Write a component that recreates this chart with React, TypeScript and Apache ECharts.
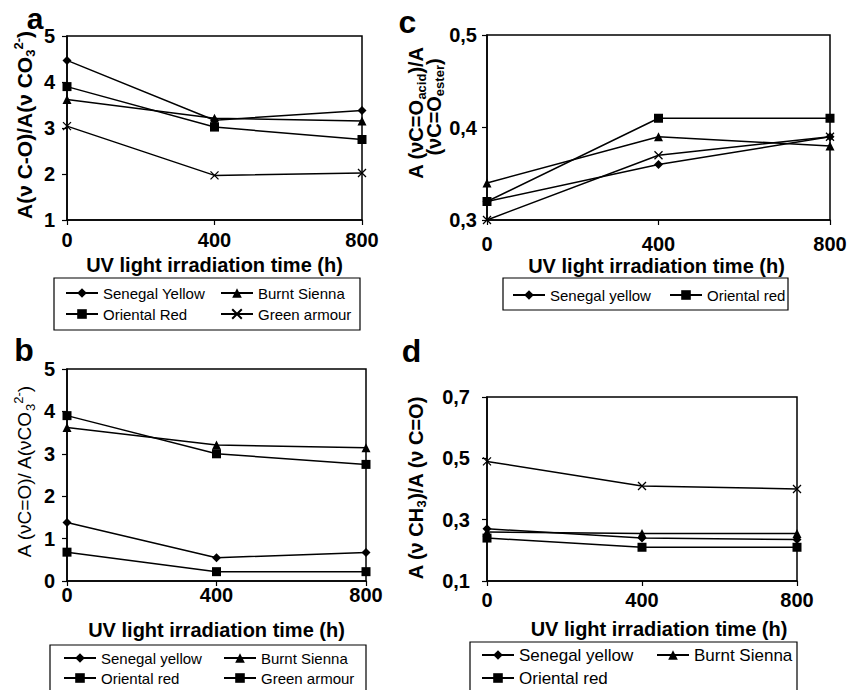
import React, { useEffect, useRef } from 'react';
import * as echarts from 'echarts';

// ---------------- data ----------------
const TIME_H = [0, 400, 800];

// panel a : A(ν C-O)/A(ν CO3 2-)
const A_SENEGAL = [4.47, 3.17, 3.38];
const A_BURNT = [3.62, 3.21, 3.15];
const A_ORIENTAL = [3.9, 3.02, 2.75];
const A_GREEN = [3.04, 1.97, 2.02];

// panel b : A(νC=O)/A(νCO3 2-)
const B_SENEGAL = [1.38, 0.55, 0.67];
const B_BURNT = [3.62, 3.21, 3.14];
const B_ORIENTAL = [3.9, 3.0, 2.75];
const B_GREEN = [0.68, 0.22, 0.22];

// panel c : A(νC=O acid)/A(νC=O ester)
const C_SENEGAL = [0.32, 0.36, 0.39];
const C_ORIENTAL = [0.32, 0.41, 0.41];
const C_BURNT = [0.34, 0.39, 0.38];
const C_GREEN = [0.3, 0.37, 0.39];

// panel d : A(ν CH3)/A(ν C=O)
const D_SENEGAL = [0.27, 0.24, 0.235];
const D_BURNT = [0.26, 0.255, 0.255];
const D_ORIENTAL = [0.24, 0.21, 0.21];
const D_GREEN = [0.49, 0.41, 0.4];

const X_TITLE = 'UV light irradiation time (h)';

// ---------------- styling helpers ----------------
const FONT = '"Liberation Sans", Arial, sans-serif';
const X_SYMBOL = 'path://M0,0L10,10M10,0L0,10';

function lineSeries(name: string, values: number[], symbol: string, size: number) {
  const isX = symbol === X_SYMBOL;
  return {
    type: 'line',
    name,
    data: TIME_H.map((t, i) => [t, values[i]]),
    symbol,
    symbolSize: size,
    showSymbol: true,
    silent: true,
    lineStyle: { color: '#000', width: 1.5 },
    itemStyle: { color: '#000', borderColor: '#000', borderWidth: isX ? 1.3 : 0 },
    emphasis: { disabled: true },
  };
}

function richStyles(size: number, bold: boolean) {
  const w = bold ? 'bold' : 'normal';
  return {
    n: { fontFamily: FONT, fontSize: size, fontWeight: w, fill: '#000', lineHeight: size + 4 },
    sub: { fontFamily: FONT, fontSize: 13, fontWeight: w, fill: '#000', padding: [12, 0, 0, 0], lineHeight: size + 4 },
    sup: { fontFamily: FONT, fontSize: 13, fontWeight: w, fill: '#000', padding: [0, 0, 12, 0], lineHeight: size + 4 },
  };
}

function yTitle(x: number, y: number, text: string, size: number, bold: boolean) {
  return {
    type: 'text',
    x,
    y,
    rotation: Math.PI / 2,
    silent: true,
    style: { text, rich: richStyles(size, bold), align: 'center', verticalAlign: 'middle' },
  };
}

function plainText(x: number, y: number, text: string, size: number) {
  return {
    type: 'text',
    x,
    y,
    silent: true,
    style: {
      text,
      fontFamily: FONT,
      fontSize: size,
      fontWeight: 'bold',
      fill: '#000',
      align: 'center',
      verticalAlign: 'middle',
    },
  };
}

function box(x: number, y: number, w: number, h: number) {
  return {
    type: 'rect',
    silent: true,
    shape: { x, y, width: w, height: h },
    style: { fill: 'none', stroke: '#000', lineWidth: 1.2 },
  };
}

function legendCol(left: number, top: number, names: string[], fontSize: number, gap: number, orient = 'vertical') {
  return {
    orient,
    left,
    top,
    padding: 0,
    itemGap: gap,
    itemWidth: 32,
    itemHeight: 12,
    selectedMode: false,
    data: names,
    textStyle: { fontFamily: FONT, fontSize, color: '#000' },
  };
}

type Grid = { left: number; top: number; width: number; height: number };

function baseOption(
  grid: Grid,
  yMin: number,
  yMax: number,
  yInterval: number,
  comma: boolean,
  xMargin: number,
  yMargin: number
) {
  const fmt = (v: number) => (comma ? v.toFixed(1).replace('.', ',') : String(Math.round(v)));
  return {
    animation: false,
    backgroundColor: 'transparent',
    grid: {
      ...grid,
      show: true,
      borderColor: '#000',
      borderWidth: 1.5,
      backgroundColor: 'transparent',
      containLabel: false,
      outerBoundsMode: 'none',
    },
    xAxis: {
      type: 'value',
      min: 0,
      max: 800,
      interval: 400,
      axisLine: { show: true, onZero: false, lineStyle: { color: '#000', width: 1.5 } },
      axisTick: { show: true, inside: false, length: 5, lineStyle: { color: '#000', width: 1.2 } },
      axisLabel: {
        margin: xMargin,
        fontFamily: FONT,
        fontSize: 20,
        fontWeight: 'bold',
        color: '#000',
        showMinLabel: true,
        showMaxLabel: true,
      },
      splitLine: { show: false },
    },
    yAxis: {
      type: 'value',
      min: yMin,
      max: yMax,
      interval: yInterval,
      axisLine: { show: true, onZero: false, lineStyle: { color: '#000', width: 1.5 } },
      axisTick: { show: true, inside: false, length: 5, lineStyle: { color: '#000', width: 1.2 } },
      axisLabel: {
        margin: yMargin,
        fontFamily: FONT,
        fontSize: 20,
        fontWeight: 'bold',
        color: '#000',
        formatter: fmt,
        showMinLabel: true,
        showMaxLabel: true,
      },
      splitLine: { show: false },
    },
  };
}

// ---------------- panels ----------------
const OPTION_A = {
  ...baseOption({ left: 67, top: 36, width: 295, height: 184 }, 1, 5, 1, false, 10, 12),
  series: [
    lineSeries('Senegal Yellow', A_SENEGAL, 'diamond', 9),
    lineSeries('Burnt Sienna', A_BURNT, 'triangle', 9),
    lineSeries('Oriental Red', A_ORIENTAL, 'rect', 9),
    lineSeries('Green armour', A_GREEN, X_SYMBOL, 8),
  ],
  legend: [
    legendCol(65, 285.5, ['Senegal Yellow', 'Oriental Red'], 15, 6),
    legendCol(220, 285.5, ['Burnt Sienna', 'Green armour'], 15, 6),
  ],
  graphic: [
    box(54, 278, 306, 52),
    plainText(35, 18, 'a', 30),
    plainText(214.5, 264.5, X_TITLE, 20),
    yTitle(24, 125, '{n|A(ν C-O)/A(ν CO}{sub|3}{sup|2-}{n|)}', 21, true),
  ],
};

const OPTION_C = {
  ...baseOption({ left: 487, top: 35, width: 343, height: 185 }, 0.3, 0.5, 0.1, true, 14, 10),
  series: [
    lineSeries('Burnt Sienna', C_BURNT, 'triangle', 9),
    lineSeries('Green armour', C_GREEN, X_SYMBOL, 8),
    lineSeries('Senegal yellow', C_SENEGAL, 'diamond', 9),
    lineSeries('Oriental red', C_ORIENTAL, 'rect', 9),
  ],
  legend: [
    legendCol(512, 287.5, ['Senegal yellow'], 15, 6, 'horizontal'),
    legendCol(669, 287.5, ['Oriental red'], 15, 6, 'horizontal'),
  ],
  graphic: [
    box(503, 278, 285, 32),
    plainText(407.5, 22, 'c', 32),
    plainText(656.5, 266, X_TITLE, 20),
    yTitle(415.5, 113, '{n|A (νC=O}{sub|acid}{n|)/A}', 20, true),
    yTitle(433.5, 107, '{n|(νC=O}{sub|ester}{n|)}', 20, true),
  ],
};

const OPTION_B = {
  ...baseOption({ left: 67, top: 369, width: 299, height: 212 }, 0, 5, 1, false, 4, 12),
  series: [
    lineSeries('Senegal yellow', B_SENEGAL, 'diamond', 9),
    lineSeries('Burnt Sienna', B_BURNT, 'triangle', 9),
    lineSeries('Oriental red', B_ORIENTAL, 'rect', 9),
    lineSeries('Green armour', B_GREEN, 'rect', 9),
  ],
  legend: [
    legendCol(63, 650.5, ['Senegal yellow', 'Oriental red'], 15, 5),
    legendCol(223, 650.5, ['Burnt Sienna', 'Green armour'], 15, 5),
  ],
  graphic: [
    box(50, 645, 316, 60),
    plainText(24, 350, 'b', 32),
    plainText(216.5, 630, X_TITLE, 20),
    yTitle(24, 472, '{n|A (νC=O)/ A(νCO}{sub|3}{sup|2-}{n|)}', 19, false),
  ],
};

const OPTION_D = {
  ...baseOption({ left: 487, top: 397, width: 310, height: 184 }, 0.1, 0.7, 0.2, true, 9, 17),
  series: [
    lineSeries('Green armour', D_GREEN, X_SYMBOL, 8),
    lineSeries('Senegal yellow', D_SENEGAL, 'diamond', 9),
    lineSeries('Burnt Sienna', D_BURNT, 'triangle', 9),
    lineSeries('Oriental red', D_ORIENTAL, 'rect', 9),
  ],
  legend: [
    legendCol(481, 646.5, ['Senegal yellow', 'Oriental red'], 17, 6),
    legendCol(656, 646.5, ['Burnt Sienna'], 17, 6),
  ],
  graphic: [
    box(470, 642, 327, 60),
    plainText(411.5, 351, 'd', 32),
    plainText(659, 628.5, X_TITLE, 20),
    yTitle(415.5, 488, '{n|A (ν CH}{sub|3}{n|)/A (ν C=O)}', 20, true),
  ],
};

const OPTIONS = [OPTION_A, OPTION_C, OPTION_B, OPTION_D];

function Panel({ option }: { option: any }) {
  const ref = useRef<HTMLDivElement>(null);
  useEffect(() => {
    if (!ref.current) return;
    const chart = echarts.init(ref.current, undefined, { renderer: 'svg' });
    chart.setOption(option);
    return () => chart.dispose();
  }, [option]);
  return (
    <div
      ref={ref}
      style={{ position: 'absolute', left: 0, top: 0, width: 848, height: 690 }}
    />
  );
}

export default function App() {
  return (
    <div
      style={{
        position: 'absolute',
        left: 0,
        top: 0,
        width: 848,
        height: 690,
        background: '#fff',
        overflow: 'hidden',
      }}
    >
      {OPTIONS.map((o, i) => (
        <Panel key={i} option={o} />
      ))}
    </div>
  );
}
